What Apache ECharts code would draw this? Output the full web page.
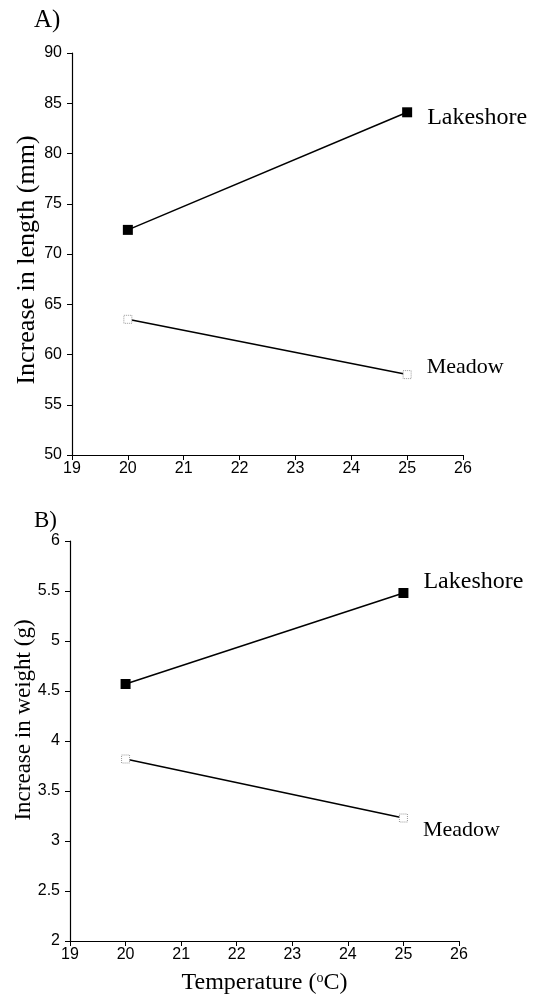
<!DOCTYPE html>
<html>
<head>
<meta charset="utf-8">
<script src="https://cdn.jsdelivr.net/npm/echarts@6/dist/echarts.min.js"></script>
<style>
  html, body { margin: 0; padding: 0; background: #fff; }
  #chart { width: 533px; height: 999px; }
</style>
</head>
<body>
<div id="chart"></div>
<script>
// temperatures (x)
const temps = [20, 25]
// panel A: increase in length (mm)
const lengthLakeshore = [72.4, 84.1]
const lengthMeadow = [63.5, 58.0]
// panel B: increase in weight (g)
const weightLakeshore = [4.57, 5.48]
const weightMeadow = [3.82, 3.23]

const SERIF = '"Liberation Serif", "DejaVu Serif", serif'
const SANS = '"Liberation Sans", Arial, sans-serif'

const myChart = echarts.init(document.getElementById('chart'), null, { renderer: 'canvas' })

function xAxisFor(gridIndex, withName) {
  return {
    gridIndex,
    type: 'value',
    min: 19,
    max: 26,
    interval: 1,
    name: withName ? 'Temperature ({sup|o}C)' : '',
    nameLocation: 'middle',
    nameGap: 30,
    nameTextStyle: {
      fontFamily: SERIF,
      fontSize: 24,
      color: '#000',
      rich: {
        sup: { fontFamily: SERIF, fontSize: 14, color: '#000', verticalAlign: 'top', padding: [0, 0, 10, 0] },
      },
    },
    axisLine: { show: true, lineStyle: { color: '#000', width: 1.2 } },
    axisTick: { show: true, length: 5, lineStyle: { color: '#000' } },
    axisLabel: { color: '#000', fontFamily: SANS, fontSize: 16, margin: 6 },
    splitLine: { show: false },
  }
}

function yAxisFor(gridIndex, min, max, interval, name, gap, nameSize, namePad) {
  return {
    gridIndex,
    type: 'value',
    min,
    max,
    interval,
    name,
    nameLocation: 'middle',
    nameGap: gap,
    nameMoveOverlap: false,
    nameTextStyle: { fontFamily: SERIF, fontSize: nameSize, color: '#000', padding: namePad },
    axisLine: { show: true, lineStyle: { color: '#000', width: 1.2 } },
    axisTick: { show: true, length: 5, lineStyle: { color: '#000' } },
    axisLabel: { color: '#000', fontFamily: SANS, fontSize: 16, margin: 10 },
    splitLine: { show: false },
  }
}

function endLabel(text, dy, size) {
  return {
    show: true,
    position: 'right',
    distance: 15,
    offset: [0, dy],
    formatter: text,
    fontFamily: SERIF,
    fontSize: size,
    color: '#000',
  }
}

function makeSeries(name, xIdx, ys, filled, dy) {
  return {
    name,
    type: 'line',
    xAxisIndex: xIdx,
    yAxisIndex: xIdx,
    symbol: 'rect',
    symbolSize: filled ? 10 : 8,
    lineStyle: { color: '#000', width: 1.5 },
    itemStyle: filled
      ? { color: '#000' }
      : { color: '#fff', borderColor: '#999', borderWidth: 1, borderType: 'dotted' },
    data: temps.map((t, i) => {
      const item = { value: [t, ys[i]] }
      if (i === temps.length - 1) item.label = endLabel(name, dy, filled ? 24 : 22)
      return item
    }),
    z: filled ? 3 : 2,
    animation: false,
  }
}

const option = {
  backgroundColor: '#fff',
  title: [
    { text: 'A)', left: 29, top: 3, textStyle: { fontFamily: SERIF, fontSize: 25, fontWeight: 'normal', color: '#000' } },
    { text: 'B)', left: 29, top: 504, textStyle: { fontFamily: SERIF, fontSize: 23, fontWeight: 'normal', color: '#000' } },
  ],
  grid: [
    { left: 72, top: 53, width: 391, height: 402, outerBoundsMode: 'none' },
    { left: 70, top: 541, width: 389, height: 400, outerBoundsMode: 'none' },
  ],
  xAxis: [xAxisFor(0, false), xAxisFor(1, true)],
  yAxis: [
    yAxisFor(0, 50, 90, 5, 'Increase in length (mm)', 32, 26, [0, 12, 0, 0]),
    yAxisFor(1, 2, 6, 0.5, 'Increase in weight (g)', 35, 23, [0, 0, 0, 42]),
  ],
  series: [
    makeSeries('Lakeshore', 0, lengthLakeshore, true, 5),
    makeSeries('Meadow', 0, lengthMeadow, false, -7),
    makeSeries('Lakeshore', 1, weightLakeshore, true, -11),
    makeSeries('Meadow', 1, weightMeadow, false, 12),
  ],
}

myChart.setOption(option, true)
</script>
</body>
</html>
